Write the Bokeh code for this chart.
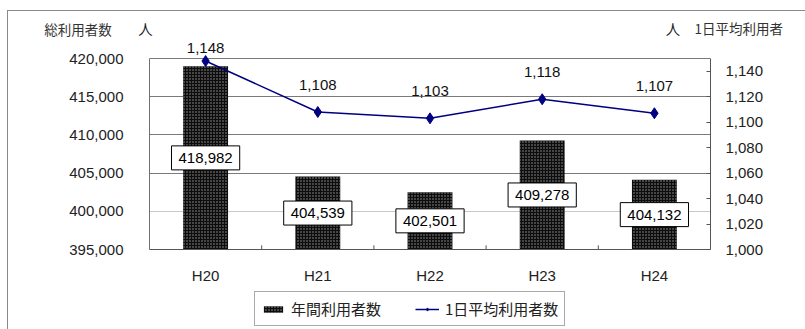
from bokeh.plotting import figure
from bokeh.layouts import column
from bokeh.models import (ColumnDataSource, Range1d, LinearAxis, NumeralTickFormatter,
                          FixedTicker, Grid, Legend, LegendItem, LabelSet, Label)
from bokeh.core.properties import value
from bokeh.embed import file_html
from bokeh.resources import INLINE

# ---- data ----
categories = ["H20", "H21", "H22", "H23", "H24"]
annual_users = [418982, 404539, 402501, 409278, 404132]
daily_avg = [1148, 1108, 1103, 1118, 1107]
left_ticks = [395000, 400000, 405000, 410000, 415000, 420000]
right_ticks = [1000, 1020, 1040, 1060, 1080, 1100, 1120, 1140]
series_names = ["年間利用者数", "1日平均利用者数"]
left_title = "総利用者数"
right_title = "1日平均利用者"
unit = "人"

# ---- styles / layout ----
NUM_FONT = "Liberation Sans"
JP_FONT = "Noto Sans CJK JP"
LEFT_MIN, LEFT_MAX = 395000, 420000
RIGHT_MIN, RIGHT_MAX = 1000, 1150
W = 797
HEAD_H = 27
MAIN_H = 252
FOOT_H = 39
FRAME_H = 211          # frame height in px (extends above the 420,000 line)
PLOT_H = 191           # px between 395,000 and 420,000
TOP_PAD = FRAME_H - PLOT_H
line_label_offsets = [13, 27, 27, 27, 27]

left_top = LEFT_MAX + (LEFT_MAX - LEFT_MIN) * TOP_PAD / PLOT_H
right_top = RIGHT_MAX + (RIGHT_MAX - RIGHT_MIN) * TOP_PAD / PLOT_H

BAR_STYLE = dict(fill_color="#0d0d0d", line_color=None,
                 hatch_pattern="dot", hatch_color="#9a9a9a", hatch_scale=3, hatch_weight=1)
LINE_COLOR = "#000080"

src = ColumnDataSource(dict(
    cat=categories,
    annual=annual_users,
    annual_mid=[(LEFT_MIN + v) / 2 for v in annual_users],
    annual_txt=[f"{v:,}" for v in annual_users],
    daily=daily_avg,
    daily_txt=[f"{v:,}" for v in daily_avg],
    off=line_label_offsets,
))


def blank_fig(h, y_flip=True):
    f = figure(width=W, height=h, x_range=Range1d(0, W),
               y_range=Range1d(h, 0) if y_flip else Range1d(0, h),
               output_backend="svg", toolbar_location=None,
               min_border=0, min_border_left=0, min_border_right=0,
               min_border_top=0, min_border_bottom=0)
    f.frame_align = False
    f.axis.visible = False
    f.grid.visible = False
    f.outline_line_color = None
    f.background_fill_color = "white"
    f.border_fill_color = "white"
    return f


# ---------------- header with axis titles ----------------
head = blank_fig(HEAD_H)
head.add_layout(Label(x=69.5, y=17, text=left_title, text_font=JP_FONT,
                      text_font_size="13.5px", text_color="#333333",
                      text_align="center", text_baseline="middle"))
head.add_layout(Label(x=137, y=16.5, text=unit, text_font=JP_FONT,
                      text_font_size="14.5px", text_color="#222222",
                      text_align="center", text_baseline="middle"))
head.add_layout(Label(x=664.5, y=16.5, text=unit, text_font=JP_FONT,
                      text_font_size="14.5px", text_color="#222222",
                      text_align="center", text_baseline="middle"))
head.add_layout(Label(x=686, y=16.5, text=right_title, text_font=JP_FONT,
                      text_font_size="13.5px", text_color="#333333",
                      text_align="left", text_baseline="middle"))

# ---------------- main chart ----------------
p = figure(width=W, height=MAIN_H, x_range=categories,
           y_range=Range1d(LEFT_MIN, left_top),
           output_backend="svg", toolbar_location=None,
           min_border_left=141, min_border_right=95,
           min_border_top=0, min_border_bottom=MAIN_H - FRAME_H)
p.frame_align = False
p.extra_y_ranges = {"right": Range1d(RIGHT_MIN, right_top)}
p.background_fill_color = "white"
p.border_fill_color = "white"
p.outline_line_color = None

# grids
p.xgrid.visible = False
p.ygrid.visible = False
p.add_layout(Grid(dimension=1, ticker=FixedTicker(ticks=[405000, 410000, 415000, 420000]),
                  grid_line_color="#7a7a7a", grid_line_width=1))
p.add_layout(Grid(dimension=1, ticker=FixedTicker(ticks=[400000]),
                  grid_line_color="#c8c8c8", grid_line_width=1))

# left axis
la = p.left[0]
la.bounds = (LEFT_MIN, LEFT_MAX)
la.ticker = FixedTicker(ticks=left_ticks)
la.formatter = NumeralTickFormatter(format="0,0")
la.major_tick_line_color = None
la.minor_tick_line_color = None
la.axis_line_color = "#707070"
la.major_label_standoff = 20
la.major_label_text_font = NUM_FONT
la.major_label_text_font_size = "15px"
la.major_label_text_color = "#222222"

# right axis
ra = LinearAxis(y_range_name="right", ticker=FixedTicker(ticks=right_ticks),
                formatter=NumeralTickFormatter(format="0,0"), bounds=(RIGHT_MIN, RIGHT_MAX))
ra.major_tick_in = 4
ra.major_tick_out = 0
ra.major_tick_line_color = "#555555"
ra.minor_tick_line_color = None
ra.axis_line_color = "#555555"
ra.major_label_standoff = 15
ra.major_label_text_font = NUM_FONT
ra.major_label_text_font_size = "15px"
ra.major_label_text_color = "#222222"
p.add_layout(ra, "right")

# bottom axis
xa = p.below[0]
xa.major_tick_line_color = None
xa.minor_tick_line_color = None
xa.axis_line_color = "#555555"
xa.major_label_standoff = 11
xa.major_label_text_font = NUM_FONT
xa.major_label_text_font_size = "15px"
xa.major_label_text_color = "#222222"

# category boundary ticks
bsrc = ColumnDataSource(dict(x=[(c, 0.5) for c in categories[:-1]]))
p.segment(x0="x", x1="x", y0=LEFT_MIN, y1=LEFT_MIN + 550, line_color="#555555",
          line_width=1, source=bsrc)

# bars
p.vbar(x="cat", top="annual", bottom=LEFT_MIN, width=0.4, source=src, **BAR_STYLE)

# bar labels
p.text(x="cat", y="annual_mid", text="annual_txt", source=src,
       text_font=value(NUM_FONT), text_font_size="15px", text_color="black",
       text_align="center", text_baseline="middle",
       background_fill_color="white", border_line_color="black", border_line_width=1,
       padding=7)

# line
p.line(x="cat", y="daily", y_range_name="right", source=src,
       line_color=LINE_COLOR, line_width=1.5)
p.scatter(x="cat", y="daily", y_range_name="right", source=src,
          marker="diamond", size=11, fill_color=LINE_COLOR, line_color=LINE_COLOR)

p.add_layout(LabelSet(x="cat", y="daily", text="daily_txt", y_range_name="right",
                      y_offset="off", source=src, text_font=value(NUM_FONT),
                      text_font_size="15px", text_color="#111111",
                      text_align="center", text_baseline="middle"))

# ---------------- footer with legend ----------------
foot = blank_fig(FOOT_H, y_flip=False)
proxy = ColumnDataSource(dict(x=[float("nan")], y=[float("nan")]))
lg_bar = foot.vbar(x="x", top="y", width=1, source=proxy, **BAR_STYLE)
lg_ln = foot.line(x="x", y="y", source=proxy, line_color=LINE_COLOR, line_width=1.5)
lg_pt = foot.scatter(x="x", y="y", source=proxy, marker="diamond", size=9,
                     fill_color=LINE_COLOR, line_color=LINE_COLOR)
legend = Legend(items=[LegendItem(label=series_names[0], renderers=[lg_bar]),
                       LegendItem(label=series_names[1], renderers=[lg_ln, lg_pt])],
                location=(246, 3), orientation="horizontal",
                label_text_font=JP_FONT, label_text_font_size="15px",
                label_text_color="#222222", label_width=100, label_height=18,
                glyph_width=24, glyph_height=8, label_standoff=6, spacing=24,
                padding=6, margin=0,
                border_line_color="#555555", border_line_width=1,
                background_fill_color="white", background_fill_alpha=1)
foot.add_layout(legend)

layout = column(head, p, foot, spacing=0,
                styles={"margin-left": "7px", "margin-top": "10px",
                        "border-left": "1px solid #8a8a8a",
                        "border-top": "1px solid #8a8a8a"})

open("out.html", "w").write(file_html(layout, INLINE))
